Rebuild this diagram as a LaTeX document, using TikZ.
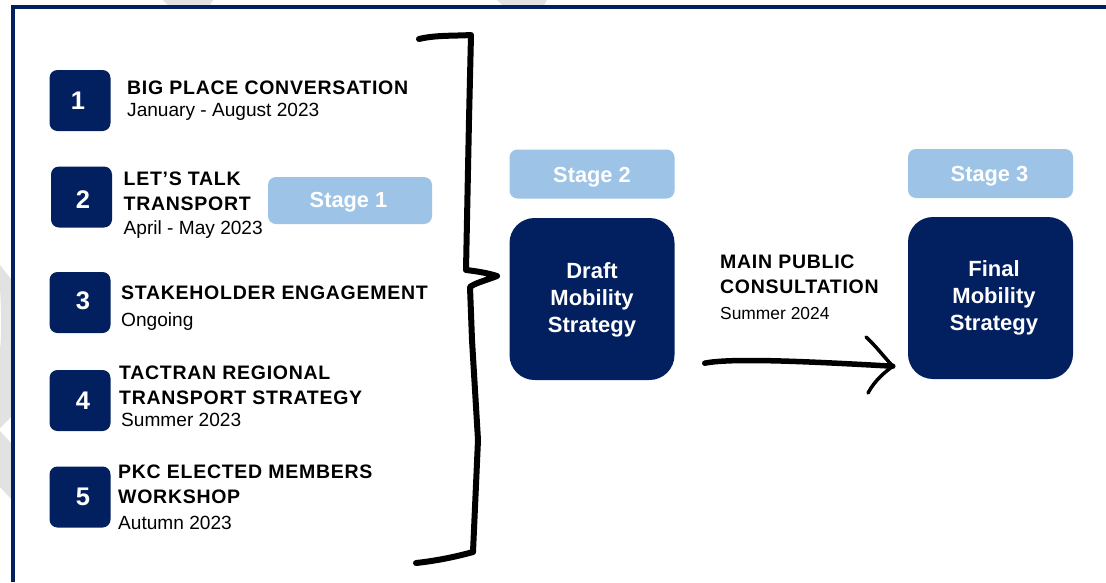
\documentclass[tikz,border=0pt]{standalone}
\usepackage{fontspec}
\usetikzlibrary{calc}
\setmainfont{Liberation Sans}
\definecolor{navy}{HTML}{02205F}
\definecolor{sky}{HTML}{9DC3E6}
\definecolor{wm}{HTML}{E2E2E2}
\newcommand{\hdtxt}{\fontsize{19.5}{25}\bfseries\addfontfeature{LetterSpace=3.7}\selectfont}
\newcommand{\subtxt}{\fontsize{19.1}{25}\selectfont}
\tikzset{
  txtdown/.style={text height=2*#1,text depth=0pt},
  numbox/.style={fill=navy,rounded corners=8pt,minimum width=61pt,minimum height=61pt,inner sep=0pt,text=white,font=\fontsize{25.5}{30}\bfseries\selectfont},
  stagebox/.style={fill=sky,rounded corners=8pt,inner sep=0pt,minimum width=165pt,minimum height=49pt,text=white,font=\fontsize{21.8}{26}\bfseries\selectfont},
  mainbox/.style={fill=navy,rounded corners=25pt,inner sep=0pt,minimum width=165pt,minimum height=162pt,text=white,align=center,font=\fontsize{22}{27.3}\bfseries\selectfont},
  itemtxt/.style={anchor=north west,inner sep=0pt,align=left,text=black,font=\fontsize{20}{25}\selectfont},
  ink/.style={draw=black,line width=6pt,line cap=round,line join=round}
}
\begin{document}
\begin{tikzpicture}[x=1pt,y=-1pt]
\useasboundingbox (0,0) rectangle (1106,582);
\fill[white] (0,0) rectangle (1106,582);
\fill[wm] (163,0) -- (213,0) -- (210,5) -- (168,5) -- cycle;
\fill[wm] (497,0) -- (547,0) -- (544,5) -- (502,5) -- cycle;
\fill[wm] (0,265) -- (11,279) -- (11,417) -- (0,428) -- (0,348) .. controls (2,340) and (1,300) .. (0,290) -- cycle;
\fill[wm] (0,431) -- (11,443) -- (11,499) -- (0,487) -- cycle;
\draw[navy,line width=3.5pt] (13,582) -- (13,7) -- (1106,7);

\node[numbox,txtdown=8.5pt] (n1) at (80,100.5) {\hspace*{-4pt}1};
\node[numbox,txtdown=11pt] (n2) at (81.5,197) {\hspace*{3pt}2};
\node[numbox,txtdown=6.5pt] (n3) at (80,302.5) {\hspace*{6pt}3};
\node[numbox,txtdown=8.5pt] (n4) at (80,400.5) {\hspace*{6pt}4};
\node[numbox,txtdown=8pt] (n5) at (80,497) {\hspace*{6pt}5};

\node[itemtxt] (t1) at (127,81) {\hdtxt BIG PLACE CONVERSATION\\[-3pt]\subtxt January - August 2023};
\node[itemtxt] (t2) at (123.5,172) {\hdtxt LET’S TALK\\\hdtxt TRANSPORT\\[-1pt]\subtxt April - May 2023};
\node[itemtxt] (t3) at (121,286) {\hdtxt STAKEHOLDER ENGAGEMENT\\[2pt]\subtxt Ongoing};
\node[itemtxt] (t4) at (119,366) {\hdtxt TACTRAN REGIONAL\\\hdtxt TRANSPORT STRATEGY\\[-3pt]\hspace*{2pt}\subtxt Summer 2023};
\node[itemtxt] (t5) at (118,465) {\hdtxt PKC ELECTED MEMBERS\\\hdtxt WORKSHOP\\[1pt]\subtxt Autumn 2023};

\node[stagebox,minimum width=164pt,minimum height=47pt,txtdown=6.5pt] (s1) at (350,200.5) {\hspace*{-3pt}Stage 1};
\node[stagebox,txtdown=8.5pt] (s2) at (592,174) {Stage 2};
\node[stagebox,txtdown=7.5pt] (s3) at (990.5,173.5) {\hspace*{-2pt}Stage 3};
\node[mainbox] (d) at (592,299) {\rule{0pt}{18pt}Draft\\Mobility\\Strategy};
\node[mainbox] (f) at (990.5,298) {\hspace*{7pt}Final\\\hspace*{7pt}Mobility\\\hspace*{7pt}Strategy};
\node[itemtxt] (t6) at (720,255) {\hdtxt MAIN PUBLIC\\\hdtxt CONSULTATION\\[1pt]\fontsize{17.4}{25}\selectfont Summer 2024};

\coordinate (btop) at (419,39);
\coordinate (bbot) at (416,563);
\coordinate (btip) at (497,276);
\draw[ink] (btop) .. controls (435,35) and (455,36) .. (471,35) -- (469,120) -- (466,270)
  .. controls (475,271) and (488,273) .. (btip) .. controls (487,280) and (475,283) .. (470,287)
  -- (472,340) -- (478,440) -- (473,552) .. controls (455,557) and (435,561) .. (bbot);

\coordinate (as) at ($(d.south east)+(30,-17)$);
\coordinate (at) at ($(f.south west)+(-15,-13)$);
\draw[ink,line width=5.5pt] (as) .. controls (730,358) and (800,361) .. (at);
\draw[ink,line width=3.5pt] (866,337) .. controls (875,345) and (885,358) .. (at)
  .. controls (885,372) and (875,380) .. (868,393);
\end{tikzpicture}
\end{document}
